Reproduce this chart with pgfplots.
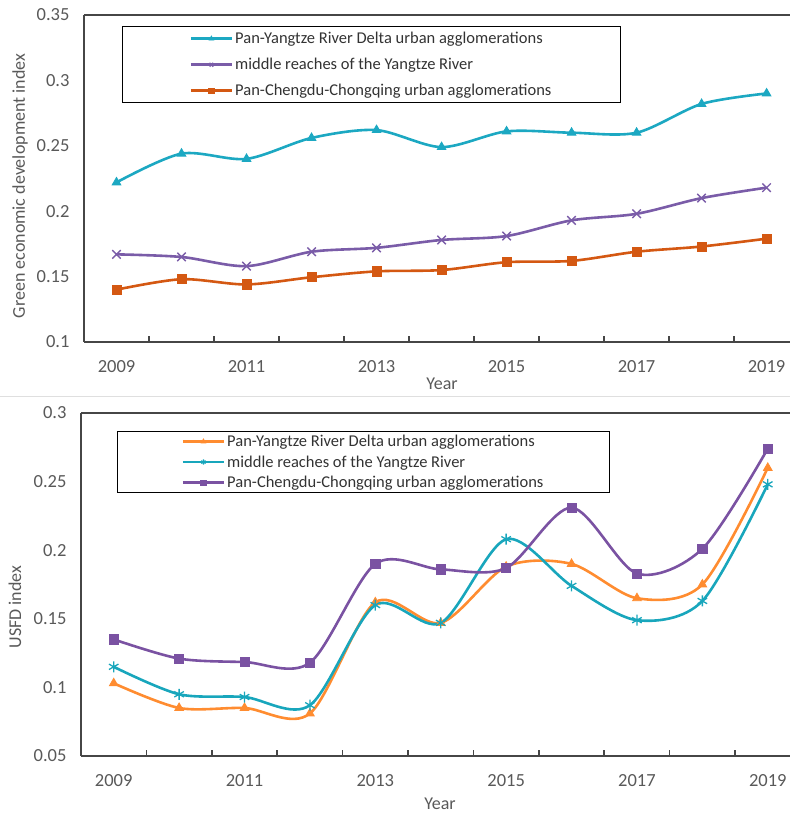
\documentclass[border=0pt]{standalone}
\usepackage{pgfplots}
\pgfplotsset{compat=1.18}
\usepackage{fontspec}
\setmainfont{Carlito}

\definecolor{tcyan}{RGB}{28,168,194}
\definecolor{tpurple}{RGB}{122,92,168}
\definecolor{torange}{RGB}{212,88,18}
\definecolor{borange}{RGB}{255,140,48}
\definecolor{bcyan}{RGB}{24,166,188}
\definecolor{bpurple}{RGB}{122,82,162}
\definecolor{axisgray}{RGB}{70,70,70}
\definecolor{labelgray}{RGB}{89,89,89}

% Green economic development index
\pgfplotstableread{
year  delta  middle  chengdu
2009  0.222  0.167   0.140
2010  0.244  0.165   0.148
2011  0.240  0.158   0.144
2012  0.256  0.169   0.1495
2013  0.262  0.172   0.154
2014  0.249  0.178   0.155
2015  0.261  0.181   0.161
2016  0.260  0.193   0.162
2017  0.260  0.198   0.169
2018  0.282  0.210   0.173
2019  0.290  0.218   0.179
}\greendata

% USFD index
\pgfplotstableread{
year  delta  middle  chengdu
2009  0.103  0.115   0.135
2010  0.085  0.095   0.121
2011  0.085  0.093   0.1185
2012  0.081  0.087   0.118
2013  0.162  0.160   0.190
2014  0.147  0.147   0.186
2015  0.188  0.208   0.187
2016  0.190  0.174   0.231
2017  0.165  0.149   0.183
2018  0.175  0.163   0.201
2019  0.260  0.248   0.274
}\usfddata

\pgfplotsset{
  panel/.style={
    scale only axis,
    anchor=south west,
    axis lines*=left,
    axis line style={axisgray, line width=1.8pt},
    xmin=2008.5,
    xtick={2009,2011,2013,2015,2017,2019},
    xticklabels={2009,2011,2013,2015,2017,2019},
    minor xtick={2009.5,2010.5,...,2018.5},
    major tick length=0pt,
    minor tick length=6pt,
    tick align=inside,
    minor tick style={axisgray, line width=1.6pt},
    ytick style={draw=none},
    xticklabel style={font=\fontsize{18.5}{20}\selectfont, text=labelgray, yshift=-15pt},
    yticklabel style={font=\fontsize{18.5}{20}\selectfont, text=labelgray, xshift=-11pt},
    clip=false,
    legend cell align=left,
    legend image code/.code={%
      \draw[mark repeat=2, mark phase=2, mark size=2.6pt]
        plot coordinates {(0cm,0cm) (0.72cm,0cm) (1.44cm,0cm)};},
    every axis plot/.append style={line width=2.6pt, smooth},
  },
}

\begin{document}
\begin{tikzpicture}[x=1pt,y=1pt]
\useasboundingbox (0,0) rectangle (790,813);

% thin rule between the two panels
\draw[gray!25, line width=1pt] (0,416) -- (790,416);

% ---------------- upper panel ----------------
\begin{axis}[panel,
  at={(84pt,471pt)}, width=706pt, height=327pt,
  xmax=2019.36,
  ymin=0.1, ymax=0.35,
  ytick={0.1,0.15,0.2,0.25,0.3,0.35},
  yticklabels={0.1,0.15,0.2,0.25,0.3,0.35},
  legend style={at={(rel axis cs:0.0538,0.966)}, anchor=north west,
    draw=black, line width=1.3pt, inner xsep=67pt, inner ysep=3.5pt,
    font=\fontsize{16.5}{18}\selectfont, text=black!80,
    row sep=9pt,
    nodes={inner sep=2pt}},
]
\addplot[tcyan, mark=triangle*, mark size=5pt, mark options={line width=0.8pt}]
  table[x=year, y=delta] {\greendata};
\addlegendentry{Pan-Yangtze River Delta urban agglomerations}
\addplot[tpurple, mark=x, mark size=6pt, mark options={line width=1.4pt}]
  table[x=year, y=middle] {\greendata};
\addlegendentry{middle reaches of the Yangtze River}
\addplot[torange, mark=square*, mark size=4.6pt, mark options={line width=0.8pt}]
  table[x=year, y=chengdu] {\greendata};
\addlegendentry{Pan-Chengdu-Chongqing urban agglomerations}
\draw[axisgray, line width=1.8pt] (rel axis cs:0,1) -- (rel axis cs:1,1);
\end{axis}
\node[font=\fontsize{18}{20}\selectfont, text=labelgray, rotate=90]
  at (20,627) {Green economic development index};
\node[font=\fontsize{18}{20}\selectfont, text=labelgray] at (442,429) {Year};

% ---------------- lower panel ----------------
\begin{axis}[panel,
  at={(81pt,57pt)}, width=709pt, height=343pt,
  xmax=2019.34,
  ymin=0.05, ymax=0.3,
  ytick={0.05,0.1,0.15,0.2,0.25,0.3},
  yticklabels={0.05,0.1,0.15,0.2,0.25,0.3},
  legend style={at={(rel axis cs:0.0508,0.9475)}, anchor=north west,
    draw=black, line width=1.3pt, inner xsep=64pt, inner ysep=1.5pt,
    font=\fontsize{16.5}{18}\selectfont, text=black!80,
    row sep=3.5pt,
    nodes={inner sep=2pt}},
]
\addplot[borange, mark=triangle*, mark size=5pt, mark options={line width=0.8pt}]
  table[x=year, y=delta] {\usfddata};
\addlegendentry{Pan-Yangtze River Delta urban agglomerations}
\addplot[bcyan, mark=asterisk, mark size=5.5pt, mark options={line width=1.3pt}]
  table[x=year, y=middle] {\usfddata};
\addlegendentry{middle reaches of the Yangtze River}
\addplot[bpurple, mark=square*, mark size=4.6pt, mark options={line width=0.8pt}]
  table[x=year, y=chengdu] {\usfddata};
\addlegendentry{Pan-Chengdu-Chongqing urban agglomerations}
\draw[axisgray, line width=1.8pt] (rel axis cs:0,1) -- (rel axis cs:1,1);
\end{axis}
\node[font=\fontsize{18}{20}\selectfont, text=labelgray, rotate=90]
  at (15,206) {USFD index};
\node[font=\fontsize{18}{20}\selectfont, text=labelgray] at (440,9) {Year};
\end{tikzpicture}
\end{document}
